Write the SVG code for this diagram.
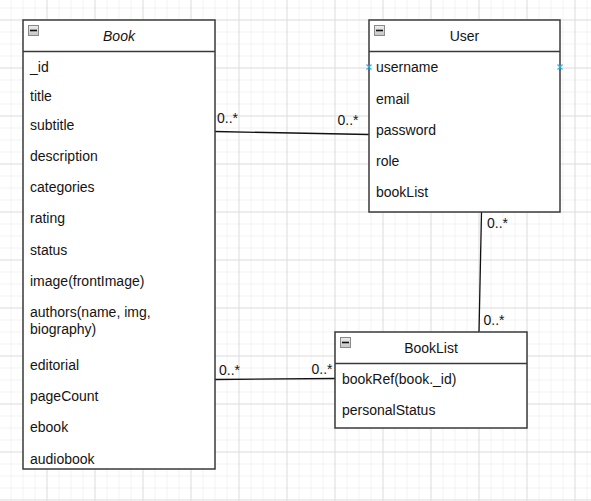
<svg xmlns="http://www.w3.org/2000/svg" width="591" height="501" viewBox="0 0 591 501">
<defs>
<pattern id="minor" x="10.5" y="7.5" width="12" height="12" patternUnits="userSpaceOnUse">
<path d="M0 0.5H12M0.5 0V12" stroke="#f2f2f2" stroke-width="1" fill="none"/>
</pattern>
<pattern id="major" x="-1.5" y="19.5" width="48" height="48" patternUnits="userSpaceOnUse">
<path d="M0 0.5H48M0.5 0V48" stroke="#e0e0e0" stroke-width="1" fill="none"/>
</pattern>
<linearGradient id="ig" x1="0" y1="0" x2="0" y2="1">
<stop offset="0" stop-color="#eeeeee"/>
<stop offset="1" stop-color="#c4c4c4"/>
</linearGradient>
<g id="icon">
<rect x="0" y="0" width="10" height="10" fill="url(#ig)" stroke="#8a8a8a" stroke-width="1"/>
<path d="M1.5 5H8.5" stroke="#111" stroke-width="1.6"/>
</g>
</defs>
<style>
.box{fill:#fff;stroke:#3a3a3a;stroke-width:1.5}
.div{stroke:#3a3a3a;stroke-width:1.3;fill:none}
.t{font-family:"Liberation Sans",Arial,sans-serif;font-size:14px;fill:#141414}
.h{text-anchor:middle}
.i{font-style:italic}
.e{stroke:#111;stroke-width:1.3;fill:none}
.m{stroke:#29b6f2;stroke-width:1.2}
</style>
<rect width="591" height="501" fill="#fff"/>
<rect width="591" height="501" fill="url(#minor)"/>
<rect width="591" height="501" fill="url(#major)"/>

<g id="connectors">
<path class="e" d="M215 131.5L369 134.5"/>
<path class="e" d="M481.5 212L479 332"/>
<path class="e" d="M215 379.5L335 378.5"/>
<text class="t" x="217" y="122.5">0..*</text>
<text class="t" x="337.5" y="124.5">0..*</text>
<text class="t" x="487" y="227.5">0..*</text>
<text class="t" x="483.5" y="325">0..*</text>
<text class="t" x="219" y="374.5">0..*</text>
<text class="t" x="311.5" y="373.5">0..*</text>
</g>

<g id="book">
<rect class="box" x="23" y="20" width="192" height="449"/>
<path class="div" d="M23 51.5H215"/>
<use href="#icon" x="28.5" y="25.5"/>
<text class="t h i" x="119" y="41">Book</text>
<text class="t" x="30" y="72">_id</text>
<text class="t" x="30" y="101">title</text>
<text class="t" x="30" y="130">subtitle</text>
<text class="t" x="30" y="161">description</text>
<text class="t" x="30" y="192">categories</text>
<text class="t" x="30" y="223">rating</text>
<text class="t" x="30" y="255">status</text>
<text class="t" x="30" y="286">image(frontImage)</text>
<text class="t" x="30" y="317">authors(name, img,</text>
<text class="t" x="30" y="334">biography)</text>
<text class="t" x="30" y="370">editorial</text>
<text class="t" x="30" y="401">pageCount</text>
<text class="t" x="30" y="432">ebook</text>
<text class="t" x="30" y="464">audiobook</text>
</g>

<g id="user">
<rect class="box" x="369" y="20" width="191" height="192"/>
<path class="div" d="M369 51.5H560"/>
<use href="#icon" x="374.5" y="25.5"/>
<text class="t h" x="464.5" y="41">User</text>
<text class="t" x="376" y="72">username</text>
<text class="t" x="376" y="103.5">email</text>
<text class="t" x="376" y="134.5">password</text>
<text class="t" x="376" y="165.5">role</text>
<text class="t" x="376" y="196.5">bookList</text>
<path class="m" d="M366.5 64.5l5 5M371.5 64.5l-5 5M557.5 64.5l5 5M562.5 64.5l-5 5"/>
</g>

<g id="booklist">
<rect class="box" x="335" y="332" width="192" height="96"/>
<path class="div" d="M335 363.5H527"/>
<use href="#icon" x="340.5" y="337.5"/>
<text class="t h" x="431" y="352.5">BookList</text>
<text class="t" x="342" y="384">bookRef(book._id)</text>
<text class="t" x="342" y="415">personalStatus</text>
</g>
</svg>
